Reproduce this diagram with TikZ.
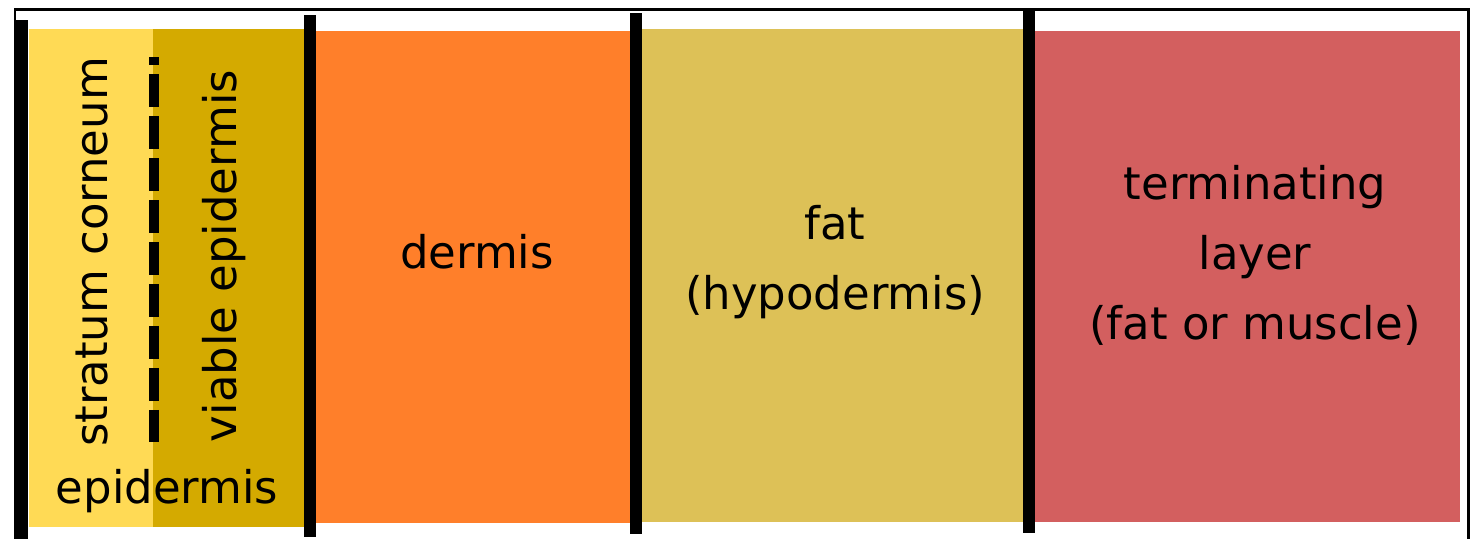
\documentclass[tikz,border=0pt]{standalone}
\usepackage{fontspec}
\setmainfont{DejaVu Sans}
\definecolor{corneum}{HTML}{FFDA55}
\definecolor{viable}{HTML}{D4AA00}
\definecolor{dermis}{HTML}{FF7F2A}
\definecolor{fat}{HTML}{DDC157}
\definecolor{termin}{HTML}{D35F5F}
\begin{document}
\begin{tikzpicture}[x=0.02cm,y=-0.02cm,
  every node/.style={font=\fontsize{25.6}{39.8}\selectfont,inner sep=0pt,align=center},
  wall/.style={line width=0.24cm}]
\useasboundingbox (0,0) rectangle (1471,538);
\fill[white] (0,0) rectangle (1471,538);
\draw[line width=0.06cm] (15,9) rectangle (1468,570);
% layers
\fill[corneum] (29,29) rectangle (153,527);
\fill[viable] (153,29) rectangle (305,527);
\fill[dermis] (315,31) rectangle (631,523);
\fill[fat] (642,29) rectangle (1024,522);
\fill[termin] (1035,31) rectangle (1460,522);
% boundaries
\foreach \x/\a/\b in {22/20/570, 310/15/537, 636/13/534, 1029/10/533}
  \draw[wall] (\x,\a) -- (\x,\b);
\draw[line width=0.2cm,dash pattern=on 18.8pt off 5.1pt,dash phase=14.2pt] (154,57) -- (154,442);
% labels
\node[rotate=90] (corneumlbl) at (92,252) {stratum corneum};
\node[rotate=90] (viablelbl) at (224,256) {viable epidermis};
\node (epilbl) at (167,491) {epidermis};
\node (dermislbl) at (477,252) {dermis};
\node (fatlbl) at (835,262) {fat\\(hypodermis)};
\node (terminlbl) at (1255,255) {terminating\\layer\\(fat or muscle)};
\end{tikzpicture}
\end{document}
